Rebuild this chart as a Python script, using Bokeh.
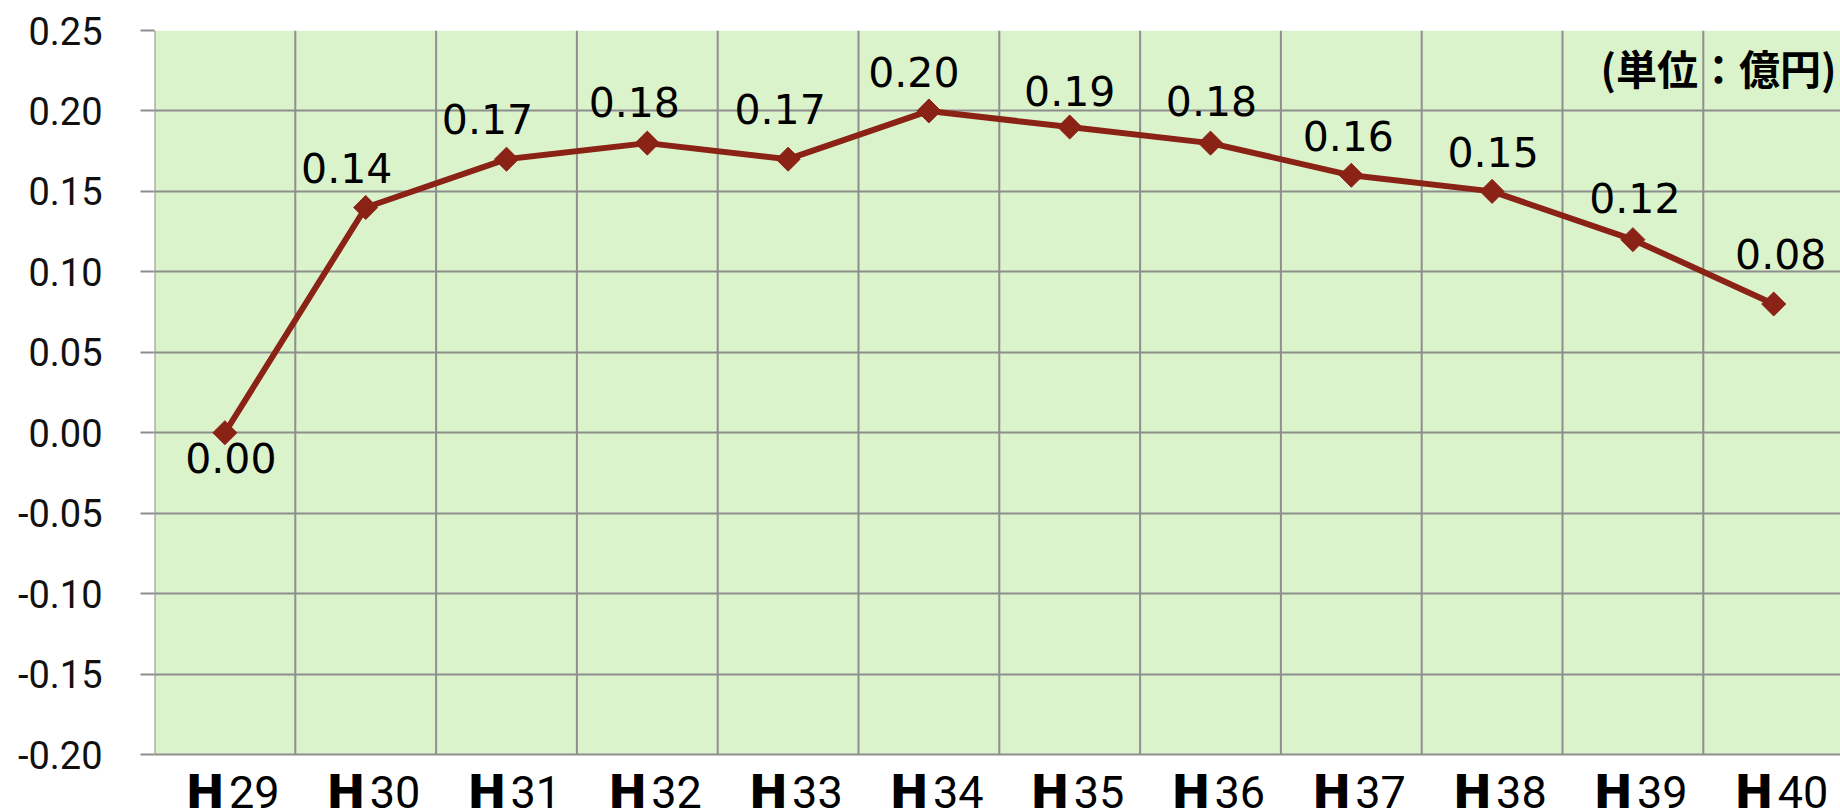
from bokeh.plotting import figure
from bokeh.models import ColumnDataSource, Range1d, FixedTicker, Label, PrintfTickFormatter
from bokeh.embed import file_html
from bokeh.resources import INLINE
from bokeh.core.properties import value

# ---- data ----
categories = ["H29", "H30", "H31", "H32", "H33", "H34", "H35", "H36", "H37", "H38", "H39", "H40"]
values = [0.00, 0.14, 0.17, 0.18, 0.17, 0.20, 0.19, 0.18, 0.16, 0.15, 0.12, 0.08]
y_ticks = [-0.20, -0.15, -0.10, -0.05, 0.00, 0.05, 0.10, 0.15, 0.20, 0.25]
unit_text = "(単位：億円)"

# ---- style: data-label nudges in screen pixels (dx right, dy up) ----
label_dx = [6, -19, -19, -13, -8, -15, 0, 1, -3, 1, 2, 7]
label_dy = [-25, 39, 40, 41, 50, 39, 36, 42, 39, 39, 42, 50]

RED = "#8B2216"
GRID = "#8E8E8E"
BG = "#DBF3CB"

W, H = 1840, 811
LEFT, TOP, BOTTOM = 154, 30, 57          # plot-area margins in px
CAT_PX = 140.8                           # width of one category in px
n = len(categories)
x_end = (W - LEFT) / CAT_PX
y_lo, y_hi = y_ticks[0], y_ticks[-1]
plot_px = H - TOP - BOTTOM
y_start = y_lo - (y_hi - y_lo) * BOTTOM / plot_px   # room for category labels

xs = [i + 0.5 for i in range(n)]
src = ColumnDataSource(dict(
    x=xs, v=values,
    label=[f"{v:.2f}" for v in values],
    dx=label_dx, dy=[-d for d in label_dy],
    pre=[c[0] for c in categories],
    num=[c[1:] for c in categories],
    ybase=[y_lo] * n,
))
bounds = list(range(n + 1))

p = figure(width=W, height=H, output_backend="svg", toolbar_location=None,
           x_range=Range1d(0, x_end), y_range=Range1d(y_start, y_hi),
           min_border_left=LEFT, min_border_right=0, min_border_top=TOP,
           min_border_bottom=0)
p.background_fill_color = "white"
p.border_fill_color = "white"
p.outline_line_color = None

# plot-area fill
p.quad(left=[0], right=[x_end], bottom=[y_lo], top=[y_hi],
       fill_color=BG, line_color=None, level="image")

p.xaxis.visible = False
p.xgrid.visible = False
p.ygrid.ticker = FixedTicker(ticks=y_ticks)
p.ygrid.grid_line_color = GRID
p.ygrid.grid_line_width = 2
# vertical category dividers
p.segment(x0=bounds, y0=[y_lo] * len(bounds), x1=bounds, y1=[y_hi] * len(bounds),
          line_color=GRID, line_width=2, level="underlay")

ax = p.yaxis[0]
ax.ticker = FixedTicker(ticks=y_ticks)
ax.formatter = PrintfTickFormatter(format="%.2f")
ax.major_label_text_font = "Roboto"
ax.major_label_text_font_size = "38px"
ax.major_label_text_color = "#111111"
ax.major_label_standoff = 38
ax.major_tick_out = 14
ax.major_tick_in = 0
ax.major_tick_line_color = GRID
ax.major_tick_line_width = 2
ax.minor_tick_line_color = None
ax.axis_line_color = None

p.line(x="x", y="v", source=src, line_color=RED, line_width=6)
p.scatter(x="x", y="v", source=src, marker="square", size=17, angle=0.7854,
          fill_color=RED, line_color=RED)

p.text(x="x", y="v", text="label", source=src, x_offset="dx", y_offset="dy",
       text_font=value("DejaVu Sans"), text_font_size="41px", text_color="black",
       text_align="center", text_baseline="middle")

# category labels below the plot area: bold "H" + regular number
p.text(x="x", y="ybase", text="pre", source=src, x_offset=0, y_offset=37,
       text_font=value("DejaVu Sans"), text_font_style="bold",
       text_font_size="47px", text_color="black",
       text_align="right", text_baseline="middle")
p.text(x="x", y="ybase", text="num", source=src, x_offset=4, y_offset=37,
       text_font=value("Roboto"), text_font_size="45px", text_color="black",
       text_align="left", text_baseline="middle")

p.add_layout(Label(x=x_end, y=y_hi, x_offset=-4, y_offset=-36, text=unit_text,
                   text_font="Noto Sans CJK JP", text_font_style="bold",
                   text_font_size="41px", text_color="black",
                   text_align="right", text_baseline="middle"))

open("out.html", "w").write(file_html(p, INLINE))
